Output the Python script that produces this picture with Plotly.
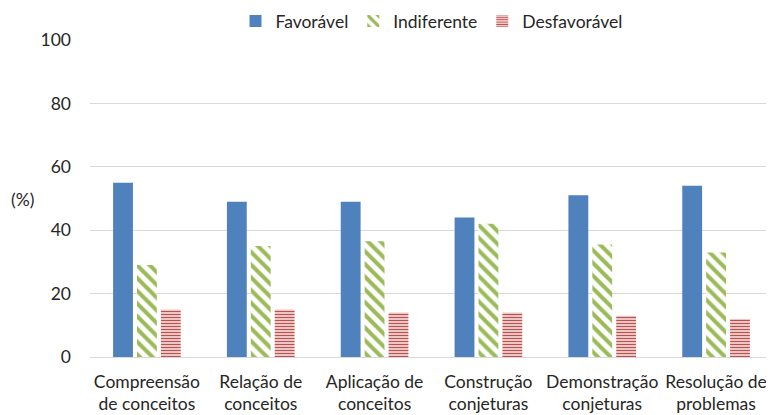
import plotly.graph_objects as go

categories = ["Compreensão<br>de conceitos", "Relação de<br>conceitos", "Aplicação de<br>conceitos",
              "Construção<br>conjeturas", "Demonstração<br>conjeturas", "Resolução de<br>problemas"]
favoravel = [55, 49, 49, 44, 51, 54]
indiferente = [29, 35, 36.5, 42, 35.5, 33]
desfavoravel = [15, 15, 14, 14, 13, 12]
y_ticks = [0, 20, 40, 60, 80, 100]

FONT = "Lato, 'Open Sans', sans-serif"
FS = 17.5

# page body has an 8px margin; figure is sized/placed to compensate
W, H = 766, 407
ML, MR, MT, MB = 82, 1, 32, 58
plot_w = W - ML - MR
plot_h = H - MT - MB

fig = go.Figure()
fig.add_trace(go.Bar(name="Favorável", x=categories, y=favoravel,
                     marker=dict(color="#4F81BD", line=dict(width=0))))
fig.add_trace(go.Bar(name="Indiferente", x=categories, y=indiferente,
                     marker=dict(color="white", line=dict(width=0),
                                 pattern=dict(shape="\\", fgcolor="#9BBB59", bgcolor="white",
                                              size=9, solidity=0.45, fillmode="replace"))))
fig.add_trace(go.Bar(name="Desfavorável", x=categories, y=desfavoravel,
                     marker=dict(color="white", line=dict(width=0),
                                 pattern=dict(shape="-", fgcolor="#C0504D", bgcolor="white",
                                              size=3, solidity=0.55, fillmode="replace"))))

fig.update_layout(
    width=W, height=H,
    margin=dict(l=ML, r=MR, t=MT, b=MB, autoexpand=False),
    paper_bgcolor="white", plot_bgcolor="white",
    barmode="group", bargap=0.37, bargroupgap=0.17,
    font=dict(family=FONT, size=FS, color="#262626"),
    legend=dict(orientation="h", x=0.5, xanchor="center", y=1 - 13 / H, yanchor="middle",
                yref="container", font=dict(size=FS), itemwidth=30, traceorder="normal",
                tracegroupgap=0),
    xaxis=dict(showgrid=False, showline=False, ticks="", tickfont=dict(size=FS),
               automargin=False, ticklabelstandoff=12),
    yaxis=dict(range=[0, 100], tickvals=y_ticks, showgrid=True, gridcolor="#D9D9D9",
               gridwidth=1, zeroline=True, zerolinecolor="#D9D9D9", zerolinewidth=1,
               showline=False, ticklabelstandoff=18, tickfont=dict(size=FS), automargin=False),
    annotations=[dict(text="(%)", x=(14 - ML) / plot_w, y=(349 - 191) / plot_h,
                      xref="paper", yref="paper", xanchor="center", yanchor="middle",
                      showarrow=False, font=dict(size=FS))],
)

fig.write_html("out.html")
